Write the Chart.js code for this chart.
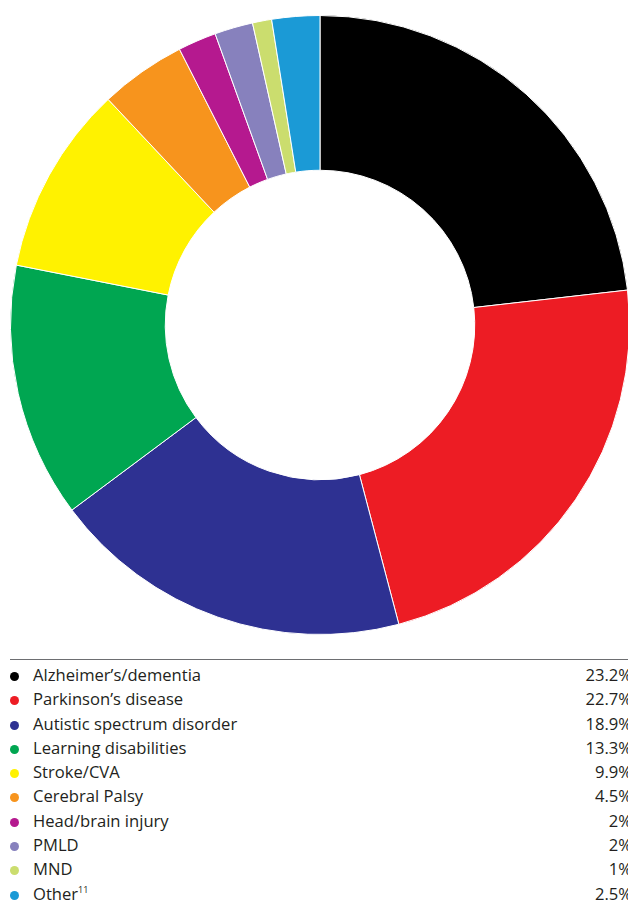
<!DOCTYPE html>
<html>
<head>
<meta charset="utf-8">
<script src="https://cdn.jsdelivr.net/npm/chart.js@4"></script>
<style>
  body { margin: 0; width: 628px; height: 904px; overflow: hidden; background: #fff; font-family: "Open Sans", Lato, sans-serif; }
  #wrap { position: absolute; left: 0; top: 0; width: 640px; height: 650px; }
  #legend { position: absolute; left: 10px; top: 659px; width: 618px; border-top: 1.5px solid #6d6e71; }
  .row { position: relative; height: 24.3px; font-size: 16.6px; color: #231f20; }
  .dot { position: absolute; left: 0; top: 7px; width: 9px; height: 9px; border-radius: 50%; }
  .lab { position: absolute; left: 23px; top: -2px; }
  .val { position: absolute; right: -4px; top: -2px; }
  sup { font-size: 9px; }
</style>
</head>
<body>
<div id="wrap"><canvas id="pieChart"></canvas></div>
<div id="legend"></div>
<script>
const labels = ["Alzheimer\u2019s/dementia", "Parkinson\u2019s disease", "Autistic spectrum disorder", "Learning disabilities", "Stroke/CVA", "Cerebral Palsy", "Head/brain injury", "PMLD", "MND", "Other"];
const values = [23.2, 22.7, 18.9, 13.3, 9.9, 4.5, 2, 2, 1, 2.5];
const colors = ["#000000", "#ed1c24", "#2e3192", "#00a651", "#fff200", "#f7941d", "#b5198f", "#8781bd", "#cbdd6e", "#1b9ad6"];

new Chart(document.getElementById("pieChart"), {
    type: "doughnut",
    data: {
        labels: labels,
        datasets: [{ data: values, backgroundColor: colors, borderColor: "#fff", borderWidth: 1 }]
    },
    options: {
        responsive: true,
        maintainAspectRatio: false,
        animation: false,
        cutout: "50%",
        layout: { padding: 10 },
        plugins: { legend: { display: false }, tooltip: { enabled: false } }
    }
});

// table under the chart
const legend = document.getElementById("legend");
legend.innerHTML = '<div style="height:5px"></div>';
labels.forEach((l, i) => {
    const name = l === "Other" ? 'Other<sup>11</sup>' : l;
    legend.innerHTML += `
        <div class="row">
            <div class="dot" style="background:${colors[i]}"></div>
            <div class="lab">${name}</div>
            <div class="val">${values[i]}%</div>
        </div>`;
});
</script>
</body>
</html>
